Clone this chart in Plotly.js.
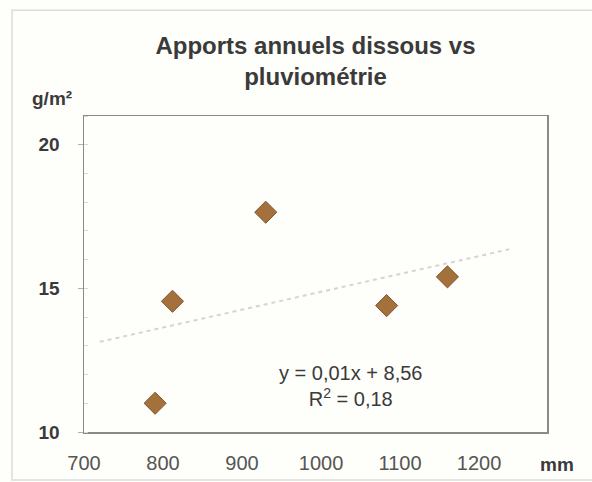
<!DOCTYPE html>
<html>
<head>
<meta charset="utf-8">
<script src="https://cdn.plot.ly/plotly-3.0.1.min.js"></script>
<style>
  html, body { margin: 0; padding: 0; background: #fefefa; }
  #chart { width: 592px; height: 482px; }
</style>
</head>
<body>
<div id="chart"></div>
<script>
// Data
const rainfallMm = [790, 812, 930, 1083, 1160];
const fluxGm2 = [11.0, 14.55, 17.65, 14.4, 15.4];
const trendExtent = [720, 1238];
const yTickVals = [10, 15, 20];
const xTickVals = [700, 800, 900, 1000, 1100, 1200];
const titleText = "Apports annuels dissous vs<br>pluviométrie";
const equationText = "y = 0,01x + 8,56<br>R<sup>2</sup> = 0,18";

// Linear regression (least squares) for the trend line
const n = rainfallMm.length;
const mx = rainfallMm.reduce((a, b) => a + b, 0) / n;
const my = fluxGm2.reduce((a, b) => a + b, 0) / n;
let sxy = 0, sxx = 0;
for (let i = 0; i < n; i++) {
  sxy += (rainfallMm[i] - mx) * (fluxGm2[i] - my);
  sxx += (rainfallMm[i] - mx) ** 2;
}
const slope = sxy / sxx;
const intercept = my - slope * mx;
const trendY = trendExtent.map(x => intercept + slope * x);

const font = "Liberation Sans, Arial, sans-serif";

const traces = [
  {
    x: trendExtent, y: trendY, type: "scatter", mode: "lines",
    line: { color: "#d4d4d0", width: 2, dash: "4px,4px" },
    hoverinfo: "skip", showlegend: false
  },
  {
    x: rainfallMm, y: fluxGm2, type: "scatter", mode: "markers",
    marker: { symbol: "diamond", size: 17, color: "#a4703c", line: { color: "#7e5530", width: 1 } },
    showlegend: false
  }
];

const layout = {
  width: 592, height: 482,
  margin: { l: 84, r: 45, t: 116, b: 50 },
  paper_bgcolor: "#fefefa",
  plot_bgcolor: "#fefefa",
  font: { family: font, color: "#333" },
  title: {
    text: titleText,
    font: { family: font, size: 24, color: "#3a3a3a", weight: "bold" },
    x: 0.5, xref: "paper", xanchor: "center",
    y: 0.888, yref: "container", yanchor: "middle"
  },
  xaxis: {
    range: [700, 1286],
    tickvals: xTickVals,
    ticktext: xTickVals.map(String),
    tickfont: { family: font, size: 20, color: "#555" },
    ticks: "",
    ticklabelstandoff: 12,
    showgrid: false, zeroline: false,
    showline: true, mirror: true, linecolor: "#8a8a8a", linewidth: 1.5
  },
  yaxis: {
    range: [10, 21],
    tickvals: yTickVals,
    ticktext: yTickVals.map(String),
    tickfont: { family: font, size: 19, color: "#3a3a3a", weight: "bold" },
    ticks: "outside", ticklen: 5, tickcolor: "#b0b0b0",
    ticklabelstandoff: 14,
    minor: { dtick: 1, ticks: "inside", ticklen: 4, tickcolor: "#d8d8d8", showgrid: false },
    showgrid: false, zeroline: false,
    showline: true, mirror: true, linecolor: "#8a8a8a", linewidth: 1.5
  },
  annotations: [
    {
      text: "g/m²", xref: "paper", yref: "paper",
      x: -0.069, y: 1.055, xanchor: "center", yanchor: "middle",
      showarrow: false, font: { family: font, size: 19, color: "#3a3a3a", weight: "bold" }
    },
    {
      text: "mm", xref: "paper", yref: "paper",
      x: 1.022, y: -0.104, xanchor: "center", yanchor: "middle",
      showarrow: false, font: { family: font, size: 19, color: "#3a3a3a", weight: "bold" }
    },
    {
      text: equationText, xref: "x", yref: "y",
      x: 1037, y: 11.6, xanchor: "center", yanchor: "middle",
      showarrow: false, align: "center",
      font: { family: font, size: 20, color: "#3a3a3a" }
    }
  ],
  shapes: [
    {
      type: "rect", xref: "paper", yref: "paper",
      x0: -0.1555, x1: 1.2, y0: -0.152, y1: 1.335,
      line: { color: "#dcdcdc", width: 1.5 }, fillcolor: "rgba(0,0,0,0)", layer: "below"
    }
  ]
};

Plotly.newPlot("chart", traces, layout, { displayModeBar: false, staticPlot: true });
</script>
</body>
</html>
